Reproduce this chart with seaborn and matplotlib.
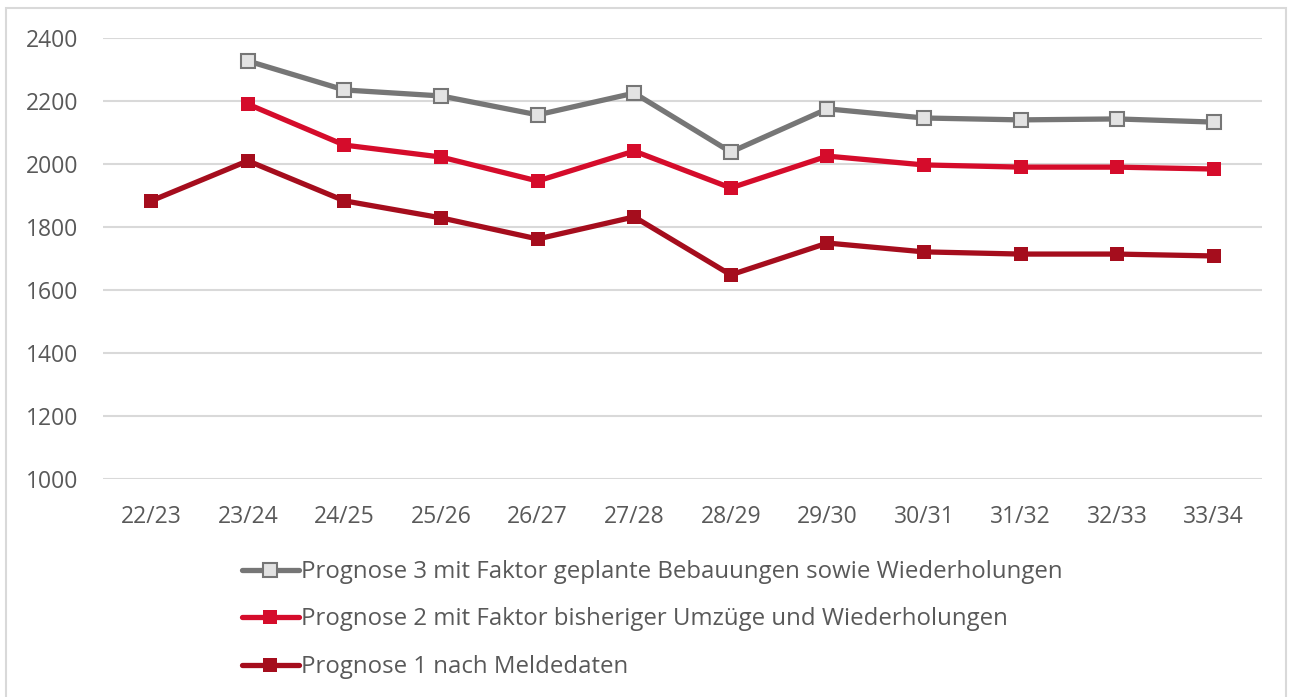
import pandas as pd
import seaborn as sns
import matplotlib.pyplot as plt
from matplotlib.patches import Rectangle

years = ['22/23', '23/24', '24/25', '25/26', '26/27', '27/28',
         '28/29', '29/30', '30/31', '31/32', '32/33', '33/34']
prognose3 = [None, 2327, 2235, 2216, 2156, 2225, 2038, 2175, 2146, 2140, 2143, 2133]
prognose2 = [None, 2190, 2060, 2022, 1946, 2041, 1924, 2025, 1997, 1990, 1990, 1984]
prognose1 = [1883, 2010, 1883, 1829, 1762, 1832, 1648, 1749, 1721, 1714, 1714, 1708]

labels = ['Prognose 3 mit Faktor geplante Bebauungen sowie Wiederholungen',
          'Prognose 2 mit Faktor bisheriger Umzüge und Wiederholungen',
          'Prognose 1 nach Meldedaten']

sns.set_style('white')
plt.rcParams['font.family'] = ['Open Sans', 'DejaVu Sans']

fig = plt.figure(figsize=(12.92, 6.97), dpi=100)
ax = fig.add_axes([0.0797, 0.3128, 0.8971, 0.6327])

styles = [
    (prognose3, labels[0], '#767676', '#e3e3e3'),
    (prognose2, labels[1], '#d50c2b', '#d50c2b'),
    (prognose1, labels[2], '#a50d1d', '#a50d1d'),
]
for vals, lab, col, fill in styles:
    df = pd.DataFrame({'Jahr': range(len(years)), 'Wert': vals}).dropna()
    hollow = fill != col
    sns.lineplot(data=df, x='Jahr', y='Wert', ax=ax, color=col, linewidth=3.8,
                 marker='s', markersize=10.5, markerfacecolor=fill,
                 markeredgecolor=col, markeredgewidth=1.5 if hollow else 0,
                 label=lab)

ax.set_xlim(-0.5, len(years) - 0.5)
ax.set_ylim(1000, 2400)
ax.set_yticks(range(1000, 2401, 200))
ax.set_xticks(range(len(years)))
ax.set_xticklabels(years)
ax.set_xlabel('')
ax.set_ylabel('')
ax.grid(axis='y', color='#d9d9d9', linewidth=1.5)
ax.set_axisbelow(True)
for s in ax.spines.values():
    s.set_visible(False)
ax.tick_params(axis='both', labelsize=16.5, labelcolor='#595959', length=0)
ax.tick_params(axis='y', pad=18)
ax.tick_params(axis='x', pad=19)

ax.legend(loc='upper center', bbox_to_anchor=(0.474, -0.162), frameon=False,
          fontsize=17.25, labelcolor='#595959', handlelength=2.4,
          handletextpad=0.1, labelspacing=0.98, borderaxespad=0)

fig.patches.append(Rectangle((0.005, -0.01), 0.99, 0.998, transform=fig.transFigure,
                             fill=False, edgecolor='#d9d9d9', linewidth=1.5))

fig.savefig('out.png', dpi=100)
